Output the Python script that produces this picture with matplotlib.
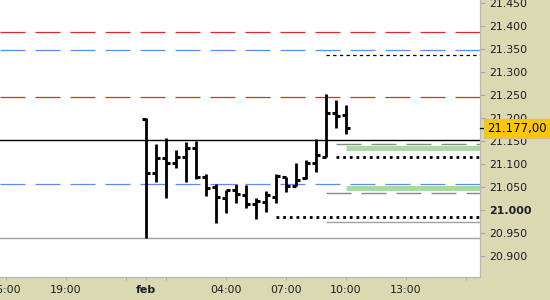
import matplotlib
matplotlib.use("Agg")
from matplotlib import pyplot as plt
from matplotlib import transforms
import numpy as np

plt.rcParams['lines.scale_dashes'] = False
plt.rcParams['font.family'] = ['DejaVu Sans']

# half-hour bars from midnight (feb) on, x in hours
bar_hours = [0, 0.5, 1, 1.5, 2, 2.5, 3, 3.5, 4, 4.5, 5, 5.5, 6, 6.5, 7, 7.5, 8, 8.5, 9, 9.5, 10]
opens = [21197, 21079, 21112, 21102, 21114, 21135, 21072, 21049, 21026, 21043, 21032,
         21012, 21017, 21027, 21071, 21052, 21068, 21102, 21115, 21210, 21206]
highs = [21199, 21143, 21155, 21130, 21148, 21150, 21078, 21055, 21043, 21056, 21054,
         21025, 21041, 21078, 21072, 21101, 21107, 21154, 21252, 21239, 21228]
lows = [20938, 21061, 21025, 21090, 21061, 21066, 21030, 20972, 20992, 21014, 21003,
        20980, 20996, 21014, 21039, 21052, 21067, 21082, 21115, 21177, 21164]
closes = [21079, 21112, 21102, 21114, 21135, 21072, 21048, 21027, 21043, 21034, 21012,
          21019, 21031, 21073, 21052, 21065, 21101, 21118, 21211, 21203, 21177]

last_price = 21177

# levels
red_levels = [21386, 21244]
blue_levels = [21347, 21055]
pivot_level = 21152
range_low = 20938
black_dash_level, black_dash_start = 21336, 9
gray_dash_levels, gray_dash_starts = [21142, 21036], [9.5, 9]
dotted_levels, dotted_starts = [21115, 20985], [9.5, 6.5]
gray_solid_level, gray_solid_start = 20973, 9
green_levels, green_start = [21135, 21047], 10

x_ticks = [-7, -4, -1, 0, 1, 4, 7, 10, 13, 16]
x_labels = ["16:00", "19:00", "", "feb", "", "04:00", "07:00", "10:00", "13:00", ""]
y_ticks = [20900, 20950, 21000, 21050, 21100, 21150, 21200, 21250, 21300, 21350, 21400, 21450]

beige = "#dad9b1"
xmin, xmax = -7.3, 16.7

fig = plt.figure(figsize=(5.5, 3.0), dpi=100, facecolor=beige)
ax = fig.add_axes([0, 23 / 300, 480 / 550, 277 / 300])
ax.set_facecolor("white")

long_dash = (0, (18, 7.2))
for y in red_levels:
    ax.axhline(y, color="#e02828", lw=0.9, ls=long_dash)
for y in blue_levels:
    ax.axhline(y, color="#5a8cf5", lw=0.9, ls=long_dash)
ax.axhline(pivot_level, color="black", lw=1.0)
ax.axhline(range_low, color="#a0a0a0", lw=1.0)

ax.hlines(black_dash_level, black_dash_start, xmax, color="black", lw=0.9, ls=(0, (2.4, 2.4)))
for y, s in zip(gray_dash_levels, gray_dash_starts):
    ax.hlines(y, s, xmax, color="#888888", lw=1.0, ls=long_dash)
for y, s in zip(dotted_levels, dotted_starts):
    ax.hlines(y, s, xmax, color="black", lw=2.0, ls=(0, (2.0, 2.8)))
ax.hlines(gray_solid_level, gray_solid_start, xmax, color="#a0a0a0", lw=1.0)
for y in green_levels:
    ax.hlines(y, green_start, xmax, color="#a6dca0", lw=3.6)

# OHLC bars
bx = np.array(bar_hours)
ax.vlines(bx, lows, highs, color="black", lw=2.0, zorder=4)
ax.hlines(opens, bx - 0.21, bx, color="black", lw=2.2, zorder=4)
ax.hlines(closes, bx, bx + 0.21, color="black", lw=2.2, zorder=4)

ax.set_xlim(xmin, xmax)
ax.set_ylim(20853.7, 21455.9)

ax.set_xticks(x_ticks)
ax.set_xticklabels(x_labels)
ax.set_yticks(y_ticks)
ax.set_yticklabels(["{:,}".format(v).replace(",", ".") for v in y_ticks])
ax.yaxis.tick_right()
ax.tick_params(axis="y", length=3.6, width=0.8, color="#a8a8a8", pad=3.2,
               labelsize=7.9, labelcolor="#1c1c28")
ax.tick_params(axis="x", length=2.4, width=0.8, color="#a8a8a8", pad=3.2,
               labelsize=7.9, labelcolor="#1c1c28")
for lab in ax.get_xticklabels():
    if lab.get_text() == "feb":
        lab.set_fontweight("bold")
for lab in ax.get_yticklabels():
    if lab.get_text() == "21.000":
        lab.set_fontweight("bold")

for side in ["top", "left"]:
    ax.spines[side].set_visible(False)
for side in ["right", "bottom"]:
    ax.spines[side].set_color("#b8b8b8")
    ax.spines[side].set_linewidth(0.9)

# last price marker
trans = transforms.blended_transform_factory(ax.transAxes, ax.transData)
ax.plot([1.0, 1.0 + 5 / 480], [last_price, last_price], color="black", lw=0.9,
        transform=trans, clip_on=False, zorder=6)
price_txt = "{:,.2f}".format(last_price).replace(",", "X").replace(".", ",").replace("X", ".")
ax.annotate(price_txt, xy=(1.0, last_price), xycoords=trans, xytext=(5.2, 0),
            textcoords="offset points", ha="left", va="center", fontsize=8.4,
            color="black", zorder=7, annotation_clip=False,
            bbox=dict(boxstyle="square,pad=0.28", fc="#fdc800", ec="#c8c090", lw=0.8))

plt.savefig("out.png", dpi=100, facecolor=beige)
